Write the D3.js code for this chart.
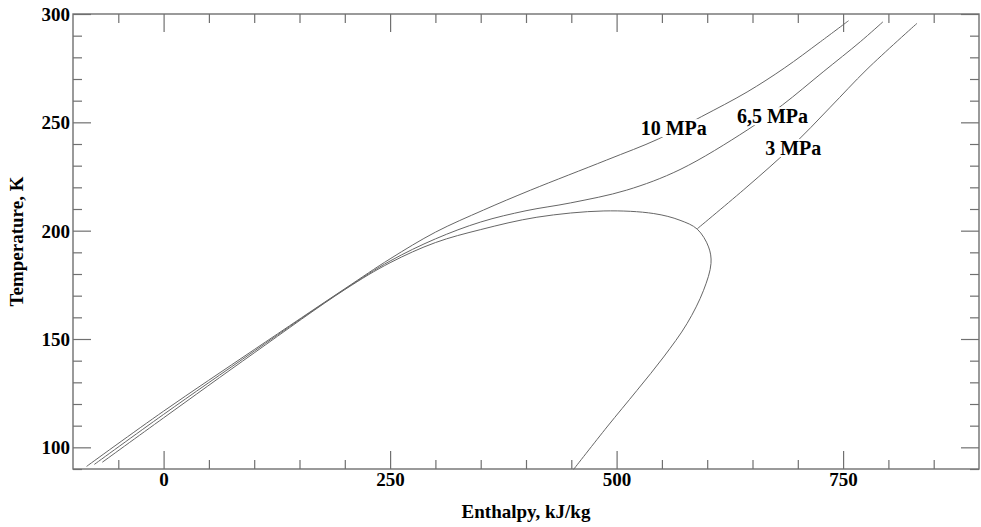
<!DOCTYPE html>
<html>
<head>
<meta charset="utf-8">
<script src="https://cdn.jsdelivr.net/npm/d3@7"></script>
<style>
  body { margin: 0; background: #fff; }
  svg text { font-family: "Liberation Serif", "Times New Roman", serif; font-weight: bold; fill: #000; }
</style>
</head>
<body>
<svg id="chart" width="981" height="527"></svg>
<script>
// isobars, [enthalpy kJ/kg, temperature K]
const iso10 = [[-85, 91.2], [0, 116.7], [100, 145.1], [200, 173.2], [250, 187], [300, 199.3], [353, 209.5],
  [405, 218.7], [489, 232.6], [546, 242.3], [594, 252.7], [644, 264], [685, 275],
  [725, 287.2], [756, 296.9]];
const iso65 = [[-76.5, 92.1], [0, 115.2], [100, 144.4], [200, 173], [250, 186], [300, 196.2],
  [350, 204], [400, 209.2], [449, 212.8], [511, 218.7], [570, 228.2],
  [644, 246.4], [683, 258], [728, 273.3], [769, 287.2], [794, 296.4]];
// 3 MPa liquid side + saturation dome, down to the bottom edge
const iso3Dome = [[-67.7, 93.1], [0, 113.6], [100, 143.6], [200, 172.8], [250, 185.2], [300, 194.5],
  [350, 200.5], [412, 206.2], [486, 209.1], [541, 207.9], [570, 204.8], [589, 200.7],
  [601.5, 192.5], [604.2, 184.9], [596, 172.5], [577.7, 157.1],
  [551.9, 141.7], [522.5, 126.3], [489.4, 109.4], [452.5, 89.8]];
// 3 MPa vapour branch
const iso3Vap = [[589.1, 200.9], [643.9, 220.2], [691.7, 238.1], [735.9, 257], [776.4, 274.5], [831.6, 295.7]];

const curves = [iso10, iso65, iso3Dome, iso3Vap];
const labels = [
  { text: "10 MPa", h: 563, T: 244.1 },
  { text: "6,5 MPa", h: 672, T: 249.6 },
  { text: "3 MPa", h: 695, T: 234.9 }
];

const xMajor = [0, 250, 500, 750];
const yMajor = [100, 150, 200, 250, 300];

const svg = d3.select("#chart");
const pL = 73, pR = 979, pT = 14, pB = 469;

const x = d3.scaleLinear().domain([-100, 900]).range([pL, pR]);
const y = d3.scaleLinear().domain([90, 300]).range([pB, pT]);

const xMinor = d3.range(-50, 900, 50).filter(v => !xMajor.includes(v));
const yMinor = d3.range(90, 301, 10).filter(v => !yMajor.includes(v));

const axisColor = "#707070";

function styleAxis(g) {
  g.select(".domain").remove();
  g.selectAll(".tick line").attr("stroke", axisColor).attr("stroke-width", 1.2);
}

// bottom
svg.append("g").attr("transform", `translate(0,${pB})`)
  .call(d3.axisBottom(x).tickValues(xMinor).tickSize(-9).tickFormat(""))
  .call(styleAxis);
svg.append("g").attr("transform", `translate(0,${pB})`)
  .call(d3.axisBottom(x).tickValues(xMajor).tickSize(-18).tickFormat(d3.format("d")))
  .call(styleAxis)
  .call(g => g.selectAll(".tick text").attr("y", 17).attr("dy", 0).attr("font-size", 19));
// top
svg.append("g").attr("transform", `translate(0,${pT})`)
  .call(d3.axisTop(x).tickValues(xMinor).tickSize(-9).tickFormat(""))
  .call(styleAxis);
svg.append("g").attr("transform", `translate(0,${pT})`)
  .call(d3.axisTop(x).tickValues(xMajor).tickSize(-18).tickFormat(""))
  .call(styleAxis);
// left
svg.append("g").attr("transform", `translate(${pL},0)`)
  .call(d3.axisLeft(y).tickValues(yMinor).tickSize(-9).tickFormat(""))
  .call(styleAxis);
svg.append("g").attr("transform", `translate(${pL},0)`)
  .call(d3.axisLeft(y).tickValues(yMajor).tickSize(-18).tickFormat(d3.format("d")))
  .call(styleAxis)
  .call(g => g.selectAll(".tick text").attr("x", -3).attr("dy", "0.34em").attr("font-size", 19));
// right
svg.append("g").attr("transform", `translate(${pR},0)`)
  .call(d3.axisRight(y).tickValues(yMinor).tickSize(-9).tickFormat(""))
  .call(styleAxis);
svg.append("g").attr("transform", `translate(${pR},0)`)
  .call(d3.axisRight(y).tickValues(yMajor).tickSize(-18).tickFormat(""))
  .call(styleAxis);

svg.selectAll(".tick text").attr("fill", "#000");

// frame
svg.append("rect")
  .attr("x", pL).attr("y", pT)
  .attr("width", pR - pL).attr("height", pB - pT)
  .attr("fill", "none").attr("stroke", axisColor).attr("stroke-width", 1.4);

// curves
const line = d3.line()
  .x(d => x(d[0]))
  .y(d => y(d[1]))
  .curve(d3.curveCatmullRom.alpha(0.5));

svg.append("g").selectAll("path")
  .data(curves)
  .join("path")
  .attr("d", line)
  .attr("fill", "none")
  .attr("stroke", "#666")
  .attr("stroke-width", 1);

// isobar labels on a white patch
const lg = svg.append("g");
labels.forEach(l => {
  const t = lg.append("text")
    .attr("x", x(l.h)).attr("y", y(l.T))
    .attr("text-anchor", "middle")
    .attr("font-size", 20)
    .text(l.text);
  const b = t.node().getBBox();
  lg.insert("rect", "text")
    .attr("x", b.x - 2).attr("y", b.y + 2)
    .attr("width", b.width + 4).attr("height", b.height - 4)
    .attr("fill", "#fff");
});

// axis titles
svg.append("text")
  .attr("x", (pL + pR) / 2).attr("y", 518)
  .attr("text-anchor", "middle")
  .attr("font-size", 19)
  .text("Enthalpy, kJ/kg");

svg.append("text")
  .attr("transform", `translate(23,${(pT + pB) / 2}) rotate(-90)`)
  .attr("text-anchor", "middle")
  .attr("font-size", 19)
  .text("Temperature, K");
</script>
</body>
</html>
